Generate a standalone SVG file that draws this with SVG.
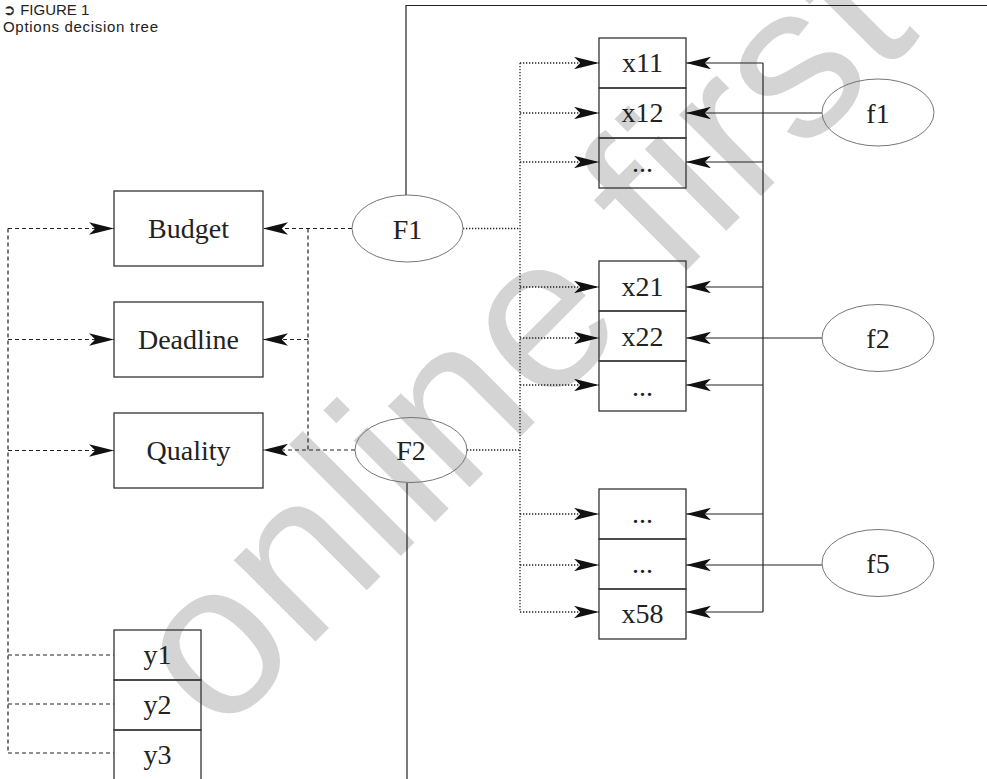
<svg xmlns="http://www.w3.org/2000/svg" width="987" height="779" viewBox="0 0 987 779">
<style>
.box{fill:none;stroke:#333;stroke-width:1.3}
.ell{fill:none;stroke:#666;stroke-width:0.9}
.lbl{font-family:"Liberation Serif",serif;font-size:28px;fill:#222;text-anchor:middle}
.dash{fill:none;stroke:#222;stroke-width:1.2;stroke-dasharray:4 3}
.dot{fill:none;stroke:#222;stroke-width:1.3;stroke-dasharray:1.3 1.7}
.solid{fill:none;stroke:#222;stroke-width:1.2}
.title{font-family:"Liberation Sans",sans-serif;font-size:15px;fill:#222}
</style>
<defs>
<marker id="ah" markerUnits="userSpaceOnUse" viewBox="0 0 24 12" refX="24" refY="6" markerWidth="25" markerHeight="12.5" orient="auto">
<path d="M0,0 L24,6 L0,12 L6,6 Z" fill="#111"/>
</marker>
</defs>
<rect width="987" height="779" fill="#fff"/>
<text id="watermark" x="219" y="738" transform="rotate(-45 219 738)" font-family="Liberation Sans, sans-serif" font-size="218" fill="#d4d4d4">online first</text>
<g id="title">
<text class="title" x="3" y="15">➲ FIGURE 1</text>
<text class="title" x="3" y="31.5" textLength="155" lengthAdjust="spacing">Options decision tree</text>
</g>
<g id="connectors">
<path class="dash" d="M8,228.5 V753"/>
<path class="dash" d="M8,228.5 H114" marker-end="url(#ah)"/>
<path class="dash" d="M8,339.5 H114" marker-end="url(#ah)"/>
<path class="dash" d="M8,450.5 H114" marker-end="url(#ah)"/>
<path class="dash" d="M8,655 H114 M8,704 H114 M8,753 H114"/>
<path class="dash" d="M352,228.5 H263" marker-end="url(#ah)"/>
<path class="dash" d="M308,228.5 V450"/>
<path class="dash" d="M308,339.5 H263" marker-end="url(#ah)"/>
<path class="dash" d="M355,450 H263" marker-end="url(#ah)"/>
<path class="solid" d="M406,195 V5.5 H987"/>
<path class="solid" d="M407,483 V779"/>
<path class="dot" d="M463,228.5 H520 M467,450 H520 M520,63 V612"/>
<path class="dot" d="M520,63 H599" marker-end="url(#ah)"/>
<path class="dot" d="M520,113 H599" marker-end="url(#ah)"/>
<path class="dot" d="M520,162 H599" marker-end="url(#ah)"/>
<path class="dot" d="M520,287 H599" marker-end="url(#ah)"/>
<path class="dot" d="M520,338 H599" marker-end="url(#ah)"/>
<path class="dot" d="M520,385 H599" marker-end="url(#ah)"/>
<path class="dot" d="M520,514 H599" marker-end="url(#ah)"/>
<path class="dot" d="M520,565 H599" marker-end="url(#ah)"/>
<path class="dot" d="M520,612 H599" marker-end="url(#ah)"/>
<path class="solid" d="M763,63 V612"/>
<path class="solid" d="M763,63 H686" marker-end="url(#ah)"/>
<path class="solid" d="M822,113 H686" marker-end="url(#ah)"/>
<path class="solid" d="M763,162 H686" marker-end="url(#ah)"/>
<path class="solid" d="M763,287 H686" marker-end="url(#ah)"/>
<path class="solid" d="M822,338 H686" marker-end="url(#ah)"/>
<path class="solid" d="M763,385 H686" marker-end="url(#ah)"/>
<path class="solid" d="M763,514 H686" marker-end="url(#ah)"/>
<path class="solid" d="M822,565 H686" marker-end="url(#ah)"/>
<path class="solid" d="M763,612 H686" marker-end="url(#ah)"/>
</g>
<g id="budget"><rect class="box" x="114" y="191" width="149" height="75"/><text class="lbl" x="188.5" y="238">Budget</text></g>
<g id="deadline"><rect class="box" x="114" y="302" width="149" height="75"/><text class="lbl" x="188.5" y="349">Deadline</text></g>
<g id="quality"><rect class="box" x="114" y="413" width="149" height="75"/><text class="lbl" x="188.5" y="460">Quality</text></g>
<g id="F1"><ellipse class="ell" cx="407.5" cy="228.5" rx="55.5" ry="33.5"/><text class="lbl" x="407.5" y="238.5">F1</text></g>
<g id="F2"><ellipse class="ell" cx="411" cy="450" rx="56" ry="32.5"/><text class="lbl" x="411" y="460">F2</text></g>
<g id="f1"><ellipse class="ell" cx="878" cy="112.5" rx="56" ry="33.5"/><text class="lbl" x="878" y="122.5">f1</text></g>
<g id="f2"><ellipse class="ell" cx="878" cy="338" rx="56" ry="33.5"/><text class="lbl" x="878" y="348">f2</text></g>
<g id="f5"><ellipse class="ell" cx="878" cy="563" rx="56" ry="33.5"/><text class="lbl" x="878" y="573">f5</text></g>
<g id="x11"><rect class="box" x="599" y="38" width="87" height="50"/><text class="lbl" x="642.5" y="72">x11</text></g>
<g id="x12"><rect class="box" x="599" y="88" width="87" height="50"/><text class="lbl" x="642.5" y="122">x12</text></g>
<g id="x1n"><rect class="box" x="599" y="138" width="87" height="50"/><text class="lbl" x="642.5" y="172">...</text></g>
<g id="x21"><rect class="box" x="599" y="261" width="87" height="50"/><text class="lbl" x="642.5" y="296">x21</text></g>
<g id="x22"><rect class="box" x="599" y="311" width="87" height="50"/><text class="lbl" x="642.5" y="346">x22</text></g>
<g id="x2n"><rect class="box" x="599" y="361" width="87" height="50"/><text class="lbl" x="642.5" y="396">...</text></g>
<g id="x5a"><rect class="box" x="599" y="489" width="87" height="50"/><text class="lbl" x="642.5" y="523">...</text></g>
<g id="x5b"><rect class="box" x="599" y="539" width="87" height="50"/><text class="lbl" x="642.5" y="573">...</text></g>
<g id="x58"><rect class="box" x="599" y="589" width="87" height="50"/><text class="lbl" x="642.5" y="623">x58</text></g>
<g id="y1"><rect class="box" x="114" y="630" width="87" height="50"/><text class="lbl" x="157.5" y="664">y1</text></g>
<g id="y2"><rect class="box" x="114" y="680" width="87" height="50"/><text class="lbl" x="157.5" y="714">y2</text></g>
<g id="y3"><rect class="box" x="114" y="730" width="87" height="50"/><text class="lbl" x="157.5" y="764">y3</text></g>
</svg>
